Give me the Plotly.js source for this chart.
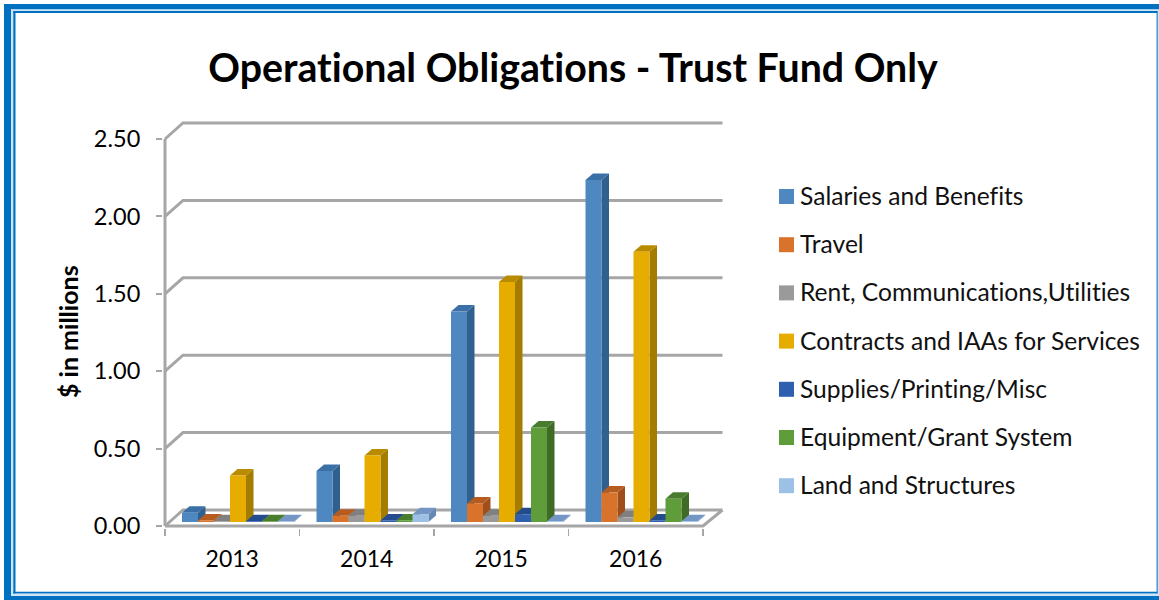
<!DOCTYPE html>
<html><head><meta charset="utf-8">
<script src="https://cdn.plot.ly/plotly-3.0.1.min.js"></script>
<style>html,body{margin:0;padding:0;background:#fff}#c{width:1159px;height:600px}svg text{font-variant-ligatures:none;font-feature-settings:"liga" 0}</style>
</head><body><div id="c"></div>
<script>
const years = ["2013","2014","2015","2016"];
const seriesNames = ["Salaries and Benefits","Travel","Rent, Communications,Utilities","Contracts and IAAs for Services","Supplies/Printing/Misc","Equipment/Grant System","Land and Structures"];
const salaries = [0.06,0.33,1.36,2.21];
const travel = [0.01,0.04,0.12,0.19];
const rent = [0.005,0.04,0.04,0.03];
const contracts = [0.30,0.43,1.55,1.745];
const supplies = [0.005,0.01,0.05,0.01];
const equipment = [0.005,0.01,0.61,0.15];
const land = [0.005,0.05,0.005,0.005];
const seriesValues = [salaries,travel,rent,contracts,supplies,equipment,land];
const frontColors = ["#4f87c0","#d9722b","#9a9a9a","#e6ad00","#2f60b0","#5f9c3a","#9cc0e6"];
const topColors = ["#3a70a6","#b65c20","#808080","#b98c00","#234c8e","#4a7c2d","#7396c4"];
const sideColors = ["#30608e","#a04f1c","#6f6f6f","#a37c00","#1d3f76","#3f6b26","#6489b5"];
const yTicks = [0,0.5,1,1.5,2,2.5];

const W=1159,H=600, L=163,R=725,T=118,B=528;
const catPx=134.5, valPx=154.8;
const x0Cat=165, y0Val=526;
const yMin=(y0Val-B)/valPx, yMax=(y0Val-T)/valPx;
const xMin=-0.5+(L-x0Cat)/catPx, xMax=-0.5+(R-x0Cat)/catPx;
const gridDx=18/catPx, gridEnd=19.5/catPx, gridDy=16/valPx;
const barW=16/catPx, barDx=7.5/catPx, barDy=6.5/valPx, barBase=4/valPx, firstOffset=-50.25/catPx;

const px=v=>(v-L)/(R-L), py=v=>(B-v)/(B-T);
const rectPx=(x0,y0,x1,y1,color)=>({type:'rect',xref:'paper',yref:'paper',x0:px(x0),x1:px(x1),y0:py(y0),y1:py(y1),fillcolor:color,line:{width:0},layer:'below'});
const frameBlue="#0070c0", frameLight="#cfe4f4";
const shapes=[
  rectPx(4,4,1159,9.5,frameBlue),rectPx(4,4,11,600,frameBlue),rectPx(4,596,1159,600,frameBlue),
  rectPx(11,9.5,1159,11,frameLight),rectPx(11,9.5,13.3,596,frameLight),rectPx(11,594,1159,596,frameLight),
  rectPx(13.3,11,1157.5,13,frameBlue),rectPx(13.3,11,15.5,593.5,frameBlue),rectPx(13.3,591.8,1157.5,593.5,frameBlue),rectPx(1156.6,11,1157.8,593.5,frameBlue),
  rectPx(1157.8,11,1159,596,frameLight)
];
const gridCol="#a6a6a6";
const xl=-0.5, xr=3.5;
const pathOf=pts=>'M'+pts.map(p=>p[0]+','+p[1]).join('L');
yTicks.forEach(v=>{
  shapes.push({type:'path',xref:'x',yref:'y',layer:'below',
    path:pathOf([[xl,v],[xl+gridDx,v+gridDy],[xr+gridEnd,v+gridDy]]),
    line:{color:gridCol,width:3}});
});
shapes.push({type:'path',xref:'x',yref:'y',layer:'below',path:pathOf([[xl,0],[xl,2.5]]),line:{color:gridCol,width:3}});
shapes.push({type:'path',xref:'x',yref:'y',layer:'below',path:pathOf([[xl,0],[xr,0],[xr+gridEnd,gridDy]]),line:{color:gridCol,width:3}});
seriesValues.forEach((vals,s)=>{
  vals.forEach((v,c)=>{
    const a=c+firstOffset+s*barW, b=a+barW, t=v+barBase, f=barBase;
    shapes.push({type:'path',xref:'x',yref:'y',layer:'below',fillcolor:sideColors[s],line:{width:0},
      path:pathOf([[b,f],[b+barDx,f+barDy],[b+barDx,t+barDy],[b,t]])+'Z'});
    shapes.push({type:'path',xref:'x',yref:'y',layer:'below',fillcolor:topColors[s],line:{width:0},
      path:pathOf([[a,t],[b,t],[b+barDx,t+barDy],[a+barDx,t+barDy]])+'Z'});
  });
});
const font='Lato, sans-serif';
const legX=798.5, legY0=196.5, legStep=48.2;
const annotations=[{xref:'paper',yref:'paper',x:px(68),y:py(332),xanchor:'center',yanchor:'middle',textangle:-90,showarrow:false,borderpad:0,
  text:'<b>$ in millions</b>',font:{family:font,size:25,color:'#000'}}];
seriesNames.forEach((n,s)=>{
  const y=legY0+s*legStep;
  shapes.push(rectPx(779,y-7.5,794,y+7.5,frontColors[s]));
  annotations.push({xref:'paper',yref:'paper',x:px(legX),y:py(y-1),xanchor:'left',yanchor:'middle',align:'left',showarrow:false,borderpad:0,
    text:n,font:{family:font,size:24.6,color:'#111'}});
});
const traces=seriesNames.map((n,s)=>({
  type:'bar',name:n,x:years,y:seriesValues[s],base:barBase,width:barW,offset:firstOffset+s*barW,
  marker:{color:frontColors[s],line:{width:0}},showlegend:false,hoverinfo:'name+y'
}));
const layout={
  width:W,height:H,autosize:false,paper_bgcolor:'#fff',plot_bgcolor:'rgba(0,0,0,0)',
  margin:{l:L,r:W-R,t:T,b:H-B,pad:0},
  barmode:'overlay',showlegend:false,
  title:{text:'Operational Obligations - Trust Fund Only',x:573/W,xref:'container',xanchor:'center',y:1-68/H,yref:'container',yanchor:'middle',
    font:{family:font,size:39.3,color:'#000',weight:700}},
  xaxis:{type:'category',categoryorder:'array',categoryarray:years,range:[xMin,xMax],tickson:'boundaries',ticks:'outside',ticklen:7,tickwidth:1.5,tickcolor:gridCol,
    showgrid:false,zeroline:false,showline:false,ticklabelstandoff:15,tickfont:{family:font,size:23,color:'#000'}},
  yaxis:{range:[yMin,yMax],tickvals:yTicks,ticktext:yTicks.map(v=>v.toFixed(2)),ticks:'outside',ticklen:6,tickwidth:2,tickcolor:gridCol,
    showgrid:false,zeroline:false,showline:false,ticklabelstandoff:11,tickfont:{family:font,size:23.5,color:'#000'}},
  shapes,annotations
};
Plotly.newPlot('c',traces,layout,{displayModeBar:false,staticPlot:true});
</script></body></html>
